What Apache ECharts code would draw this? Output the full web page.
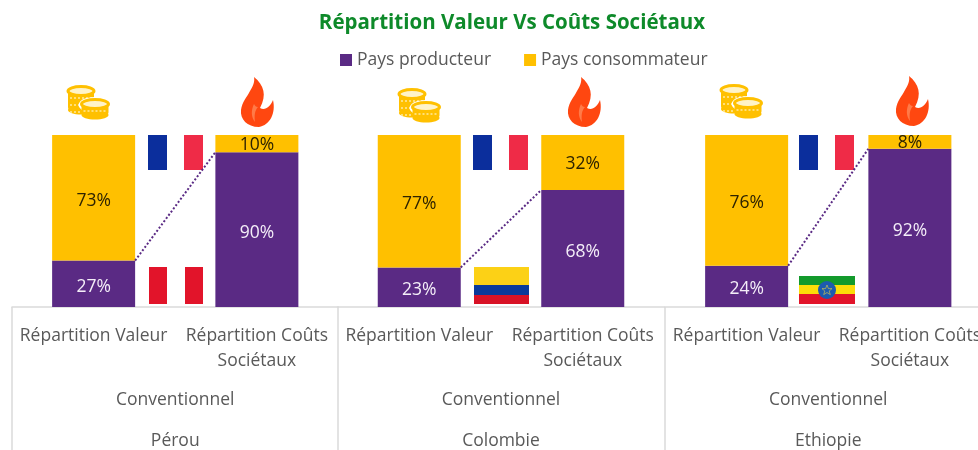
<!DOCTYPE html>
<html>
<head>
<meta charset="utf-8">
<style>html,body{margin:0;padding:0;background:#fff}#c{width:978px;height:450px}</style>
<script src="https://cdn.jsdelivr.net/npm/echarts@6/dist/echarts.min.js"></script>
</head>
<body>
<div id="c"></div>
<script>
const titleText = 'Répartition Valeur Vs Coûts Sociétaux';
const categories = ['Répartition Valeur', 'Répartition Coûts\nSociétaux'];
const seriesNames = ['Pays producteur', 'Pays consommateur'];
const countries = ['Pérou', 'Colombie', 'Ethiopie'];
const segment = 'Conventionnel';
const producteur = [[27, 90], [23, 68], [24, 92]];
const consommateur = [[73, 10], [77, 32], [76, 8]];

const PURPLE = '#5A2A84', YELLOW = '#FFC000', GREY = '#595959', RULE = '#DADADA';
const FONT = '"Open Sans", Lato, sans-serif';
const panelLeft = [12, 337.5, 665], panelW = [326.5, 327, 326.5], separators = [12, 338, 665];
const plotTop = 135, plotH = 172, barW = 83;

echarts.graphic.registerShape('ellipse', echarts.graphic.Ellipse);
echarts.graphic.registerShape('flameBody', echarts.graphic.extendPath('M15 0C25 8 28 18 21 31C26 34 31 30 34 23C37 36 31 48 20 50C8 50 1 42 2 33C3 25 8 20 11 14C14 9 16 5 15 0Z', {}));
echarts.graphic.registerShape('flameNotch', echarts.graphic.extendPath('M15 27C12 33 12 40 16 45C15 38 16 33 19 30C17 30 16 29 15 27Z', {}));
echarts.graphic.registerShape('emblem', echarts.graphic.extendPath('M827 285L828.4 288.6L832 288.6L829.2 291L830.3 294.6L827 292.5L823.7 294.6L824.8 291L822 288.6L825.6 288.6Z', {}));

const grids = [], xAxes = [], yAxes = [], series = [];
countries.forEach((c, i) => {
  grids.push({left: panelLeft[i], top: plotTop, width: panelW[i], height: plotH, containLabel: false, outerBoundsMode: 'none'});
  xAxes.push({type: 'category', gridIndex: i, data: categories,
    axisTick: {show: false},
    axisLine: {show: true, lineStyle: {color: RULE, width: 1.5}},
    axisLabel: {interval: 0, color: GREY, fontFamily: FONT, fontSize: 17.5, lineHeight: 25, margin: 17, hideOverlap: false}});
  yAxes.push({type: 'value', gridIndex: i, min: 0, max: 100, show: false});
  const mk = (name, data, color, textColor, offsets) => ({
    name, type: 'bar', stack: 's' + i, xAxisIndex: i, yAxisIndex: i, barWidth: barW,
    data: data.map((value, k) => ({value, label: {offset: [0, offsets[k]]}})),
    itemStyle: {color},
    label: {show: true, position: 'inside', formatter: '{c}%', color: textColor, fontFamily: FONT, fontSize: 17.5}
  });
  series.push(mk(seriesNames[0], producteur[i], PURPLE, '#F4EEF8', [3, 3]));
  series.push(mk(seriesNames[1], consommateur[i], YELLOW, '#2E2300', [3, 1]));
  series.push({
    type: 'custom', xAxisIndex: i, yAxisIndex: i, silent: true, z: 5,
    data: [[0, producteur[i][0], producteur[i][1]]],
    renderItem(params, api) {
      const a = api.coord([0, api.value(1)]), b = api.coord([1, api.value(2)]);
      return {type: 'line', shape: {x1: a[0] + barW / 2, y1: a[1], x2: b[0] - barW / 2, y2: b[1]},
        style: {stroke: PURPLE, lineWidth: 2, lineDash: [2, 2]}};
    }
  });
});

function rect(x, y, w, h, fill) { return {type: 'rect', shape: {x, y, width: w, height: h}, style: {fill}, silent: true}; }
function french(x) { return [rect(x, 135, 19, 35, '#0B2E9C'), rect(x + 36, 135, 19, 35, '#EF2B47')]; }

function coinStack(cx, cy, rx, ry, h) {
  const out = [];
  out.push({type: 'rect', shape: {x: cx - rx, y: cy, width: 2 * rx, height: h, r: 3}, style: {fill: YELLOW}, silent: true});
  out.push({type: 'ellipse', shape: {cx, cy: cy + h, rx, ry}, style: {fill: YELLOW}, silent: true});
  for (let k = 1; k * 7 < h + 3; k++) {
    out.push({type: 'line', shape: {x1: cx - rx + 2, y1: cy + k * 7, x2: cx + rx - 2, y2: cy + k * 7},
      style: {stroke: '#FFE9A0', lineWidth: 1.5, lineDash: [2, 2]}, silent: true});
  }
  out.push({type: 'ellipse', shape: {cx, cy, rx, ry}, style: {fill: '#FFF3C8', stroke: YELLOW, lineWidth: 3}, silent: true});
  return out;
}
function coins(x, y) {
  return {type: 'group', x, y, silent: true, children: [
    ...coinStack(14, 6, 13, 4.5, 19),
    {type: 'ellipse', shape: {cx: 28, cy: 20, rx: 16.5, ry: 8}, style: {fill: '#fff'}, silent: true},
    ...coinStack(28, 19, 13.5, 4.5, 11)
  ]};
}
function flame(x, y) {
  return {type: 'group', x, y, silent: true, children: [
    {type: 'flameBody', style: {fill: '#FF4710'}, silent: true},
    {type: 'flameNotch', style: {fill: '#FF7A48'}, silent: true}
  ]};
}
const centerText = (t, x, y) => ({type: 'text', x, y, silent: true,
  style: {text: t, fill: GREY, font: '17.5px ' + FONT, textAlign: 'center', textVerticalAlign: 'middle'}});

const graphics = [
  ...separators.map(x => ({type: 'line', silent: true, shape: {x1: x, y1: 307, x2: x, y2: 450}, style: {stroke: RULE, lineWidth: 1.5}})),
  ...french(148), rect(149, 267, 18, 37, '#E2142A'), rect(185, 267, 18, 37, '#E2142A'),
  ...french(473), rect(474, 267, 55, 18, '#FCD116'), rect(474, 285, 55, 10, '#0A3A9A'), rect(474, 295, 55, 9, '#D81226'),
  ...french(799), rect(799, 276, 56, 9, '#139A2C'), rect(799, 285, 56, 9, '#FCDD09'), rect(799, 294, 56, 10, '#E2142A'),
  {type: 'circle', silent: true, shape: {cx: 827, cy: 290, r: 9}, style: {fill: '#1D5BB0'}},
  {type: 'emblem', silent: true, style: {fill: 'none', stroke: '#E3D040', lineWidth: 0.6}},
  coins(67, 85), flame(239, 77),
  coins(398, 88), flame(566, 77),
  coins(720, 84), flame(894, 76),
  ...countries.flatMap((c, i) => [
    centerText(segment, panelLeft[i] + panelW[i] / 2, 400),
    centerText(c, panelLeft[i] + panelW[i] / 2, 441)
  ])
];

const chart = echarts.init(document.getElementById('c'));
chart.setOption({
  animation: false,
  backgroundColor: '#fff',
  title: {text: titleText, left: 507, top: 8, textAlign: 'center',
    textStyle: {color: '#0E8A2A', fontFamily: FONT, fontWeight: 'bold', fontSize: 20.5}},
  legend: {data: seriesNames, left: 335, top: 46, icon: 'rect', itemWidth: 12, itemHeight: 12, itemGap: 33, selectedMode: false,
    textStyle: {color: GREY, fontFamily: FONT, fontSize: 17.5}},
  grid: grids, xAxis: xAxes, yAxis: yAxes, series, graphic: graphics
});
</script>
</body>
</html>
